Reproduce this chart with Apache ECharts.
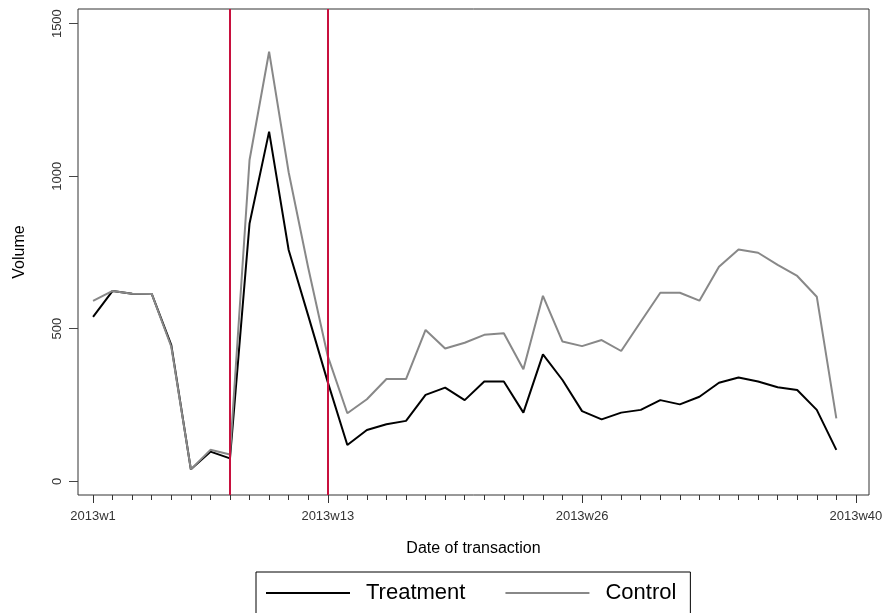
<!DOCTYPE html>
<html>
<head>
<meta charset="utf-8">
<script src="https://cdn.jsdelivr.net/npm/echarts@6/dist/echarts.min.js"></script>
<style>
html,body{margin:0;padding:0;background:#fff;}
#chart{width:886px;height:613px;}
</style>
</head>
<body>
<div id="chart"></div>
<script>
// Week index (2013w1 .. 2013w39)
const weeks = [1,2,3,4,5,6,7,8,9,10,11,12,13,14,15,16,17,18,19,20,21,22,23,24,25,26,27,28,29,30,31,32,33,34,35,36,37,38,39];
const treatment = [539,624,615,614,446,39,97,75,845,1146,758,543,325,119,168,187,198,283,307,266,327,327,225,416,332,230,203,225,234,266,252,277,323,340,327,308,299,234,103];
const control = [591,624,615,614,441,39,103,88,1053,1408,1013,700,410,223,269,335,335,496,435,454,480,485,367,608,458,443,463,427,523,618,618,592,703,760,749,709,673,605,206];
const minorTickWeeks = [1,2,3,4,5,6,7,8,9,10,11,12,13,14,15,16,17,18,19,20,21,22,23,24,25,26,27,28,29,30,31,32,33,34,35,36,37,38,39,40];
const majorTickWeeks = [1,13,26,40];
const xTickLabels = ['2013w1','2013w13','2013w26','2013w40'];
const yTicks = [0,500,1000,1500];
const interventionWeeks = [8,13];

const chart = echarts.init(document.getElementById('chart'), null, {renderer:'canvas'});
const font = 'Liberation Sans, Arial, sans-serif';
const pair = (xs, ys) => xs.map((x,i)=>[x, ys[i]]);

chart.setOption({
  animation:false,
  backgroundColor:'#fff',
  grid:{left:78, right:17, top:9, bottom:118, show:true, borderColor:'#333', borderWidth:1},
  legend:{
    data:['Treatment','Control'],
    left:256, top:572,
    orient:'horizontal',
    borderColor:'#000', borderWidth:1,
    padding:[10,14,40,10],
    icon:'rect',
    itemWidth:84, itemHeight:2, itemGap:40,
    textStyle:{fontFamily:font, fontSize:22, color:'#000', padding:[0,0,0,11]}
  },
  xAxis:[{
    type:'value', min:0.23, max:40.67,
    position:'bottom',
    name:'Date of transaction', nameLocation:'middle', nameGap:46,
    nameTextStyle:{fontFamily:font, fontSize:16, color:'#000'},
    axisLine:{show:false, onZero:false},
    splitLine:{show:false},
    axisTick:{show:true, length:8, lineStyle:{color:'#333'}, customValues:majorTickWeeks},
    axisLabel:{show:true, fontFamily:font, fontSize:13, color:'#333', margin:15,
      customValues:majorTickWeeks,
      formatter:(v)=>xTickLabels[majorTickWeeks.indexOf(Math.round(v))] || ''}
  },{
    type:'value', min:0.23, max:40.67,
    position:'bottom',
    axisLine:{show:false, onZero:false},
    splitLine:{show:false},
    axisTick:{show:true, length:5, lineStyle:{color:'#333'}, customValues:minorTickWeeks},
    axisLabel:{show:false}
  }],
  yAxis:{
    type:'value', min:-45, max:1548,
    name:'Volume', nameLocation:'middle', nameGap:50,
    nameTextStyle:{fontFamily:font, fontSize:16, color:'#000'},
    axisLine:{show:false, onZero:false},
    splitLine:{show:false},
    axisTick:{show:true, length:9, lineStyle:{color:'#444'}, customValues:yTicks},
    axisLabel:{show:true, rotate:90, fontFamily:font, fontSize:13, color:'#333', margin:14,
      customValues:yTicks, formatter:(v)=>String(v)}
  },
  series:[{
    name:'Treatment', type:'line', xAxisIndex:0,
    data:pair(weeks, treatment),
    symbol:'none', lineStyle:{color:'#000', width:2}, itemStyle:{color:'#000'},
    z:2
  },{
    name:'Control', type:'line', xAxisIndex:0,
    data:pair(weeks, control),
    symbol:'none', lineStyle:{color:'#888', width:2}, itemStyle:{color:'#888'},
    z:3,
    markLine:{
      silent:true, symbol:['none','none'], label:{show:false},
      lineStyle:{color:'#C8103E', width:2, type:'solid'},
      data:interventionWeeks.map(w=>({xAxis:w}))
    }
  }]
});
</script>
</body>
</html>
